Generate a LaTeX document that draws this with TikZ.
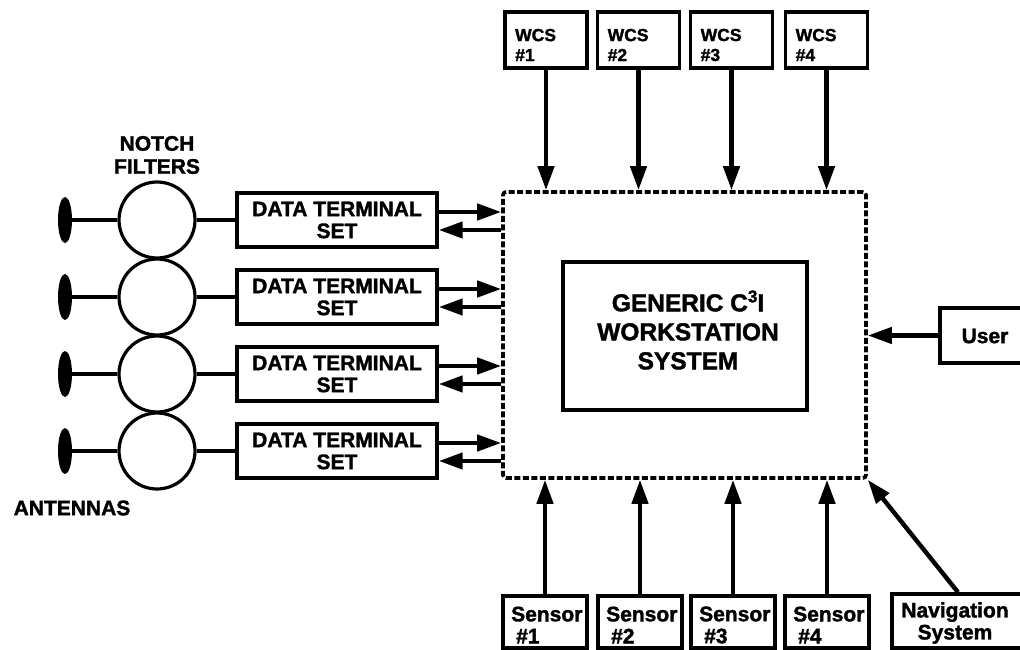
\documentclass[tikz,border=0pt]{standalone}
\usepackage{fontspec}
\setmainfont{Liberation Sans}[BoldFeatures={FakeBold=1.6}]
\usetikzlibrary{arrows.meta,shapes.geometric}
\begin{document}
\begin{tikzpicture}[x=1pt,y=-1pt,
  font=\bfseries\fontsize{21pt}{22pt}\selectfont,
  box/.style={draw, line width=3.4pt, inner sep=0pt},
  arr/.style={line width=4.4pt, -{Triangle[length=24pt,width=16pt]}},
  wire/.style={line width=3.4pt},
  txt/.style={inner sep=0pt, align=left, anchor=west}]
\useasboundingbox (0,0) rectangle (1020,650);
\clip (0,0) rectangle (1020,650);

% workstation (dashed) and centre box
\node[draw, line width=3.6pt, dash pattern=on 6pt off 2.5pt, rounded corners=3pt, minimum width=363pt, minimum height=286pt, inner sep=0pt] (ws) at (684.5,335) {};
\node[box, minimum width=244pt, minimum height=148pt] (gen) at (685,336) {};
\node[inner sep=0pt, align=center, font=\bfseries\fontsize{24.5pt}{29pt}\selectfont] (gent) at (688,330)
  {GENERIC C\raisebox{9pt}{\fontsize{17pt}{17pt}\selectfont 3}I\\WORKSTATION\\SYSTEM};

% WCS boxes
\foreach \i/\x in {1/546,2/638.5,3/731.5,4/826.5}{
  \node[box, minimum width=82pt, minimum height=56pt] (wcs\i) at (\x,40) {};
  \node[txt, font=\bfseries\fontsize{17.5pt}{20pt}\selectfont] (wcst\i) at (\x-31,45) {WCS\\\#\i};
  \draw[arr] (wcs\i.south) -- (wcs\i.south |- ws.north);
}

% Sensor boxes
\foreach \i/\x in {1/545,2/640,3/733,4/827}{
  \node[box, minimum width=84pt, minimum height=52pt] (sen\i) at (\x,622) {};
  \node[txt] (sent\i) at (\x-34,625) {Sensor\\\hspace*{5pt}\#\i};
  \draw[arr] (sen\i.north) -- (sen\i.north |- ws.south);
}

% Navigation
\node[box, minimum width=132pt, minimum height=54pt] (nav) at (958,621) {};
\node[inner sep=0pt, align=center] (navt) at (955,623) {Navigation\\System};
\draw[arr] (nav.north) -- (ws.south east);

% User
\node[box, minimum width=100pt, minimum height=55pt] (user) at (990,335.5) {};
\node[inner sep=0pt] (usert) at (985,336) {User};
\draw[arr] (user.west) -- (user.west -| ws.east);

% left chain
\node[inner sep=0pt, align=center, font=\bfseries\fontsize{21pt}{23pt}\selectfont] (notch) at (157,155) {NOTCH\\FILTERS};
\node[inner sep=0pt] (antl) at (72,508) {ANTENNAS};
\foreach \i/\cy in {1/220,2/297,3/374,4/451}{
  \node[fill, ellipse, minimum width=14pt, minimum height=46pt, inner sep=0pt] (ant\i) at (65,\cy) {};
  \node[draw, circle, line width=3.2pt, minimum size=76pt, inner sep=0pt] (nf\i) at (157,\cy) {};
  \node[box, minimum width=200pt, minimum height=54pt, align=center] (dts\i) at (337,\cy) {DATA TERMINAL\\SET};
  \draw[wire] (ant\i) -- (nf\i);
  \draw[wire] (nf\i) -- (dts\i);
  \draw[arr] ([yshift=8pt]dts\i.east) -- ([yshift=8pt]dts\i.east -| ws.west);
  \draw[arr] ([yshift=-10pt]dts\i.east -| ws.west) -- ([yshift=-10pt]dts\i.east);
}
\end{tikzpicture}
\end{document}
